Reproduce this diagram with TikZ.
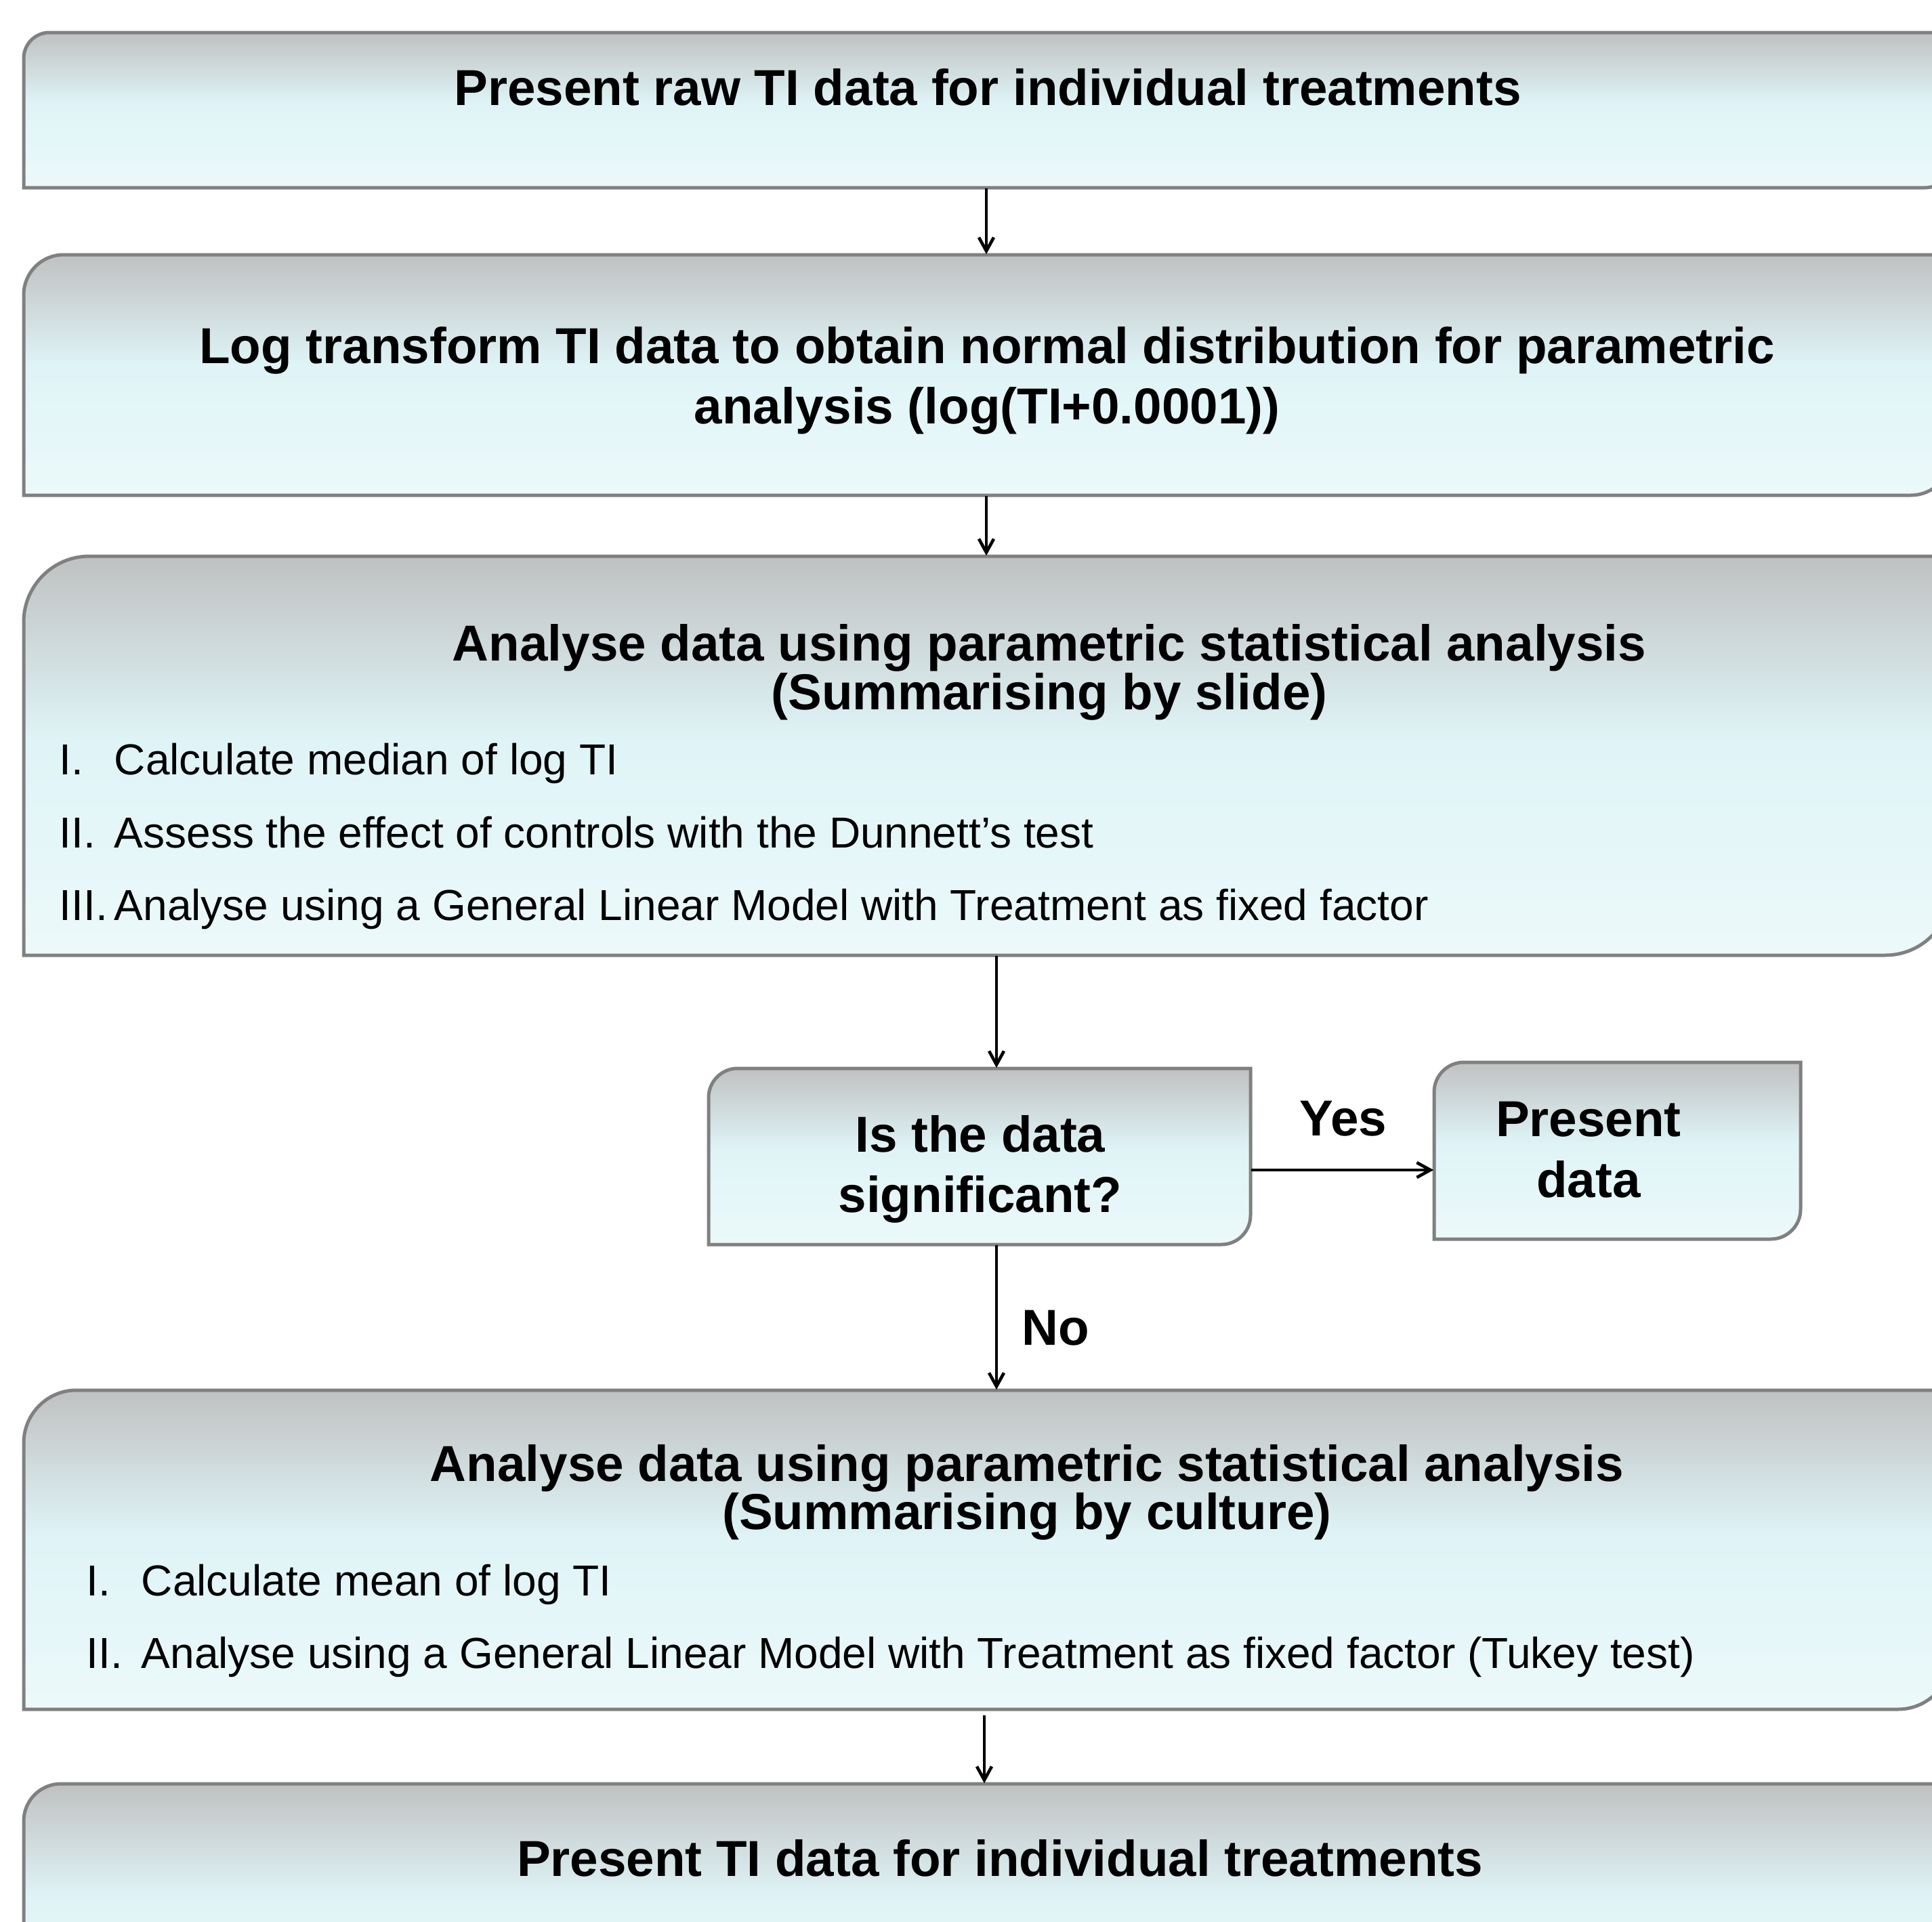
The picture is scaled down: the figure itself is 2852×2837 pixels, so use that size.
\documentclass[tikz,border=0pt]{standalone}
\usepackage{fontspec}
\setmainfont{Liberation Sans}
\usetikzlibrary{arrows.meta,fit}

\definecolor{edgegray}{RGB}{128,128,128}
\definecolor{shadetop}{RGB}{192,193,193}
\definecolor{shademid}{RGB}{223,244,247}
\definecolor{shadebot}{RGB}{236,249,250}

% gray at the top, light cyan from a little above the middle down
\pgfdeclareverticalshading{boxgrad}{100bp}{%
  color(0bp)=(shadebot); color(25bp)=(shadebot);
  color(52bp)=(shademid); color(75bp)=(shadetop); color(100bp)=(shadetop)}

\tikzset{
  boxshape/.style={draw=edgegray, line width=1.25pt, shading=boxgrad},
  headline/.style={anchor=base, inner sep=0pt,
    font=\bfseries\fontsize{18.65}{22}\selectfont},
  tag/.style={anchor=base west, inner sep=0pt,
    font=\bfseries\fontsize{18.65}{22}\selectfont},
  itemnum/.style={anchor=base west, inner sep=0pt,
    font=\fontsize{16}{19}\selectfont},
  itemtext/.style={anchor=base west, inner sep=0pt,
    font=\fontsize{16}{19}\selectfont},
  arr/.style={line width=1.15pt, -{Straight Barb[length=5pt,width=5.5pt]}},
}

% Box with rounded top-left and bottom-right corners:
% name, left, top, right, bottom, corner radius
\newcommand\flowbox[6]{%
  \path[boxshape] (#2,#5) -- (#2,{#3+#6})
    .. controls (#2,{#3+0.448*#6}) and ({#2+0.448*#6},#3) .. ({#2+#6},#3)
    -- (#4,#3) -- (#4,{#5-#6})
    .. controls (#4,{#5-0.448*#6}) and ({#4-0.448*#6},#5) .. ({#4-#6},#5)
    -- cycle;
  \node[fit={(#2,#3) (#4,#5)}, inner sep=0pt] (#1) {};
}

\begin{document}
\begin{tikzpicture}[x=0.25pt, y=-0.25pt]
\useasboundingbox (0,0) rectangle (2852,2837);
\clip (0,0) rectangle (2852,2837);

% boxes
\flowbox{raw}{35}{48}{2880}{277}{38}
\flowbox{logt}{35}{376}{2880}{731}{59}
\flowbox{slide}{35}{821}{2880}{1410}{97}
\flowbox{sig}{1046}{1577}{1846}{1837}{43}
\flowbox{pres}{2117}{1568}{2658}{1829}{44}
\flowbox{culture}{35}{2052}{2880}{2523}{78}
\flowbox{final}{35}{2633}{2880}{3000}{55}

% texts
\node[headline] (rawtxt) at (1458,155) {Present raw TI data for individual treatments};

\node[headline] (logta) at (1457,536) {Log transform TI data to obtain normal distribution for parametric};
\node[headline] (logtb) at (1457,625) {analysis (log(TI+0.0001))};

\node[headline] (slidea) at (1549,975) {Analyse data using parametric statistical analysis};
\node[headline] (slideb) at (1549,1047) {(Summarising by slide)};
\node[itemnum] (sn1) at (87,1143) {I.};
\node[itemtext] (st1) at (168,1143) {Calculate median of log TI};
\node[itemnum] (sn2) at (87,1251) {II.};
\node[itemtext] (st2) at (168,1251) {Assess the effect of controls with the Dunnett’s test};
\node[itemnum] (sn3) at (87,1358) {III.};
\node[itemtext] (st3) at (168,1358) {Analyse using a General Linear Model with Treatment as fixed factor};

\node[headline] (siga) at (1447,1700) {Is the data};
\node[headline] (sigb) at (1447,1789) {significant?};

\node[headline] (presa) at (2345,1677) {Present};
\node[headline] (presb) at (2345,1767) {data};

\node[headline] (cula) at (1516,2186) {Analyse data using parametric statistical analysis};
\node[headline] (culb) at (1516,2257) {(Summarising by culture)};
\node[itemnum] (cn1) at (127,2355) {I.};
\node[itemtext] (ct1) at (208,2355) {Calculate mean of log TI};
\node[itemnum] (cn2) at (127,2462) {II.};
\node[itemtext] (ct2) at (208,2462) {Analyse using a General Linear Model with Treatment as fixed factor (Tukey test)};

\node[headline] (finaltxt) at (1476,2769) {Present TI data for individual treatments};

% connectors
\coordinate (col) at (1471,0);
\coordinate (yesrow) at (0,1727);
\draw[arr] (raw.south -| 1456,0) -- (logt.north -| 1456,0);
\draw[arr] (logt.south -| 1456,0) -- (slide.north -| 1456,0);
\draw[arr] (slide.south -| col) -- (sig.north -| col);
\draw[arr] (sig.east |- yesrow) -- (pres.west |- yesrow);
\draw[arr] (sig.south -| col) -- (culture.north -| col);
\draw[arr] ([yshift=-2pt]culture.south -| 1453,0) -- (final.north -| 1453,0);

\node[tag] (yes) at (1918,1676) {Yes};
\node[tag] (no) at (1508,1985) {No};
\end{tikzpicture}
\end{document}
